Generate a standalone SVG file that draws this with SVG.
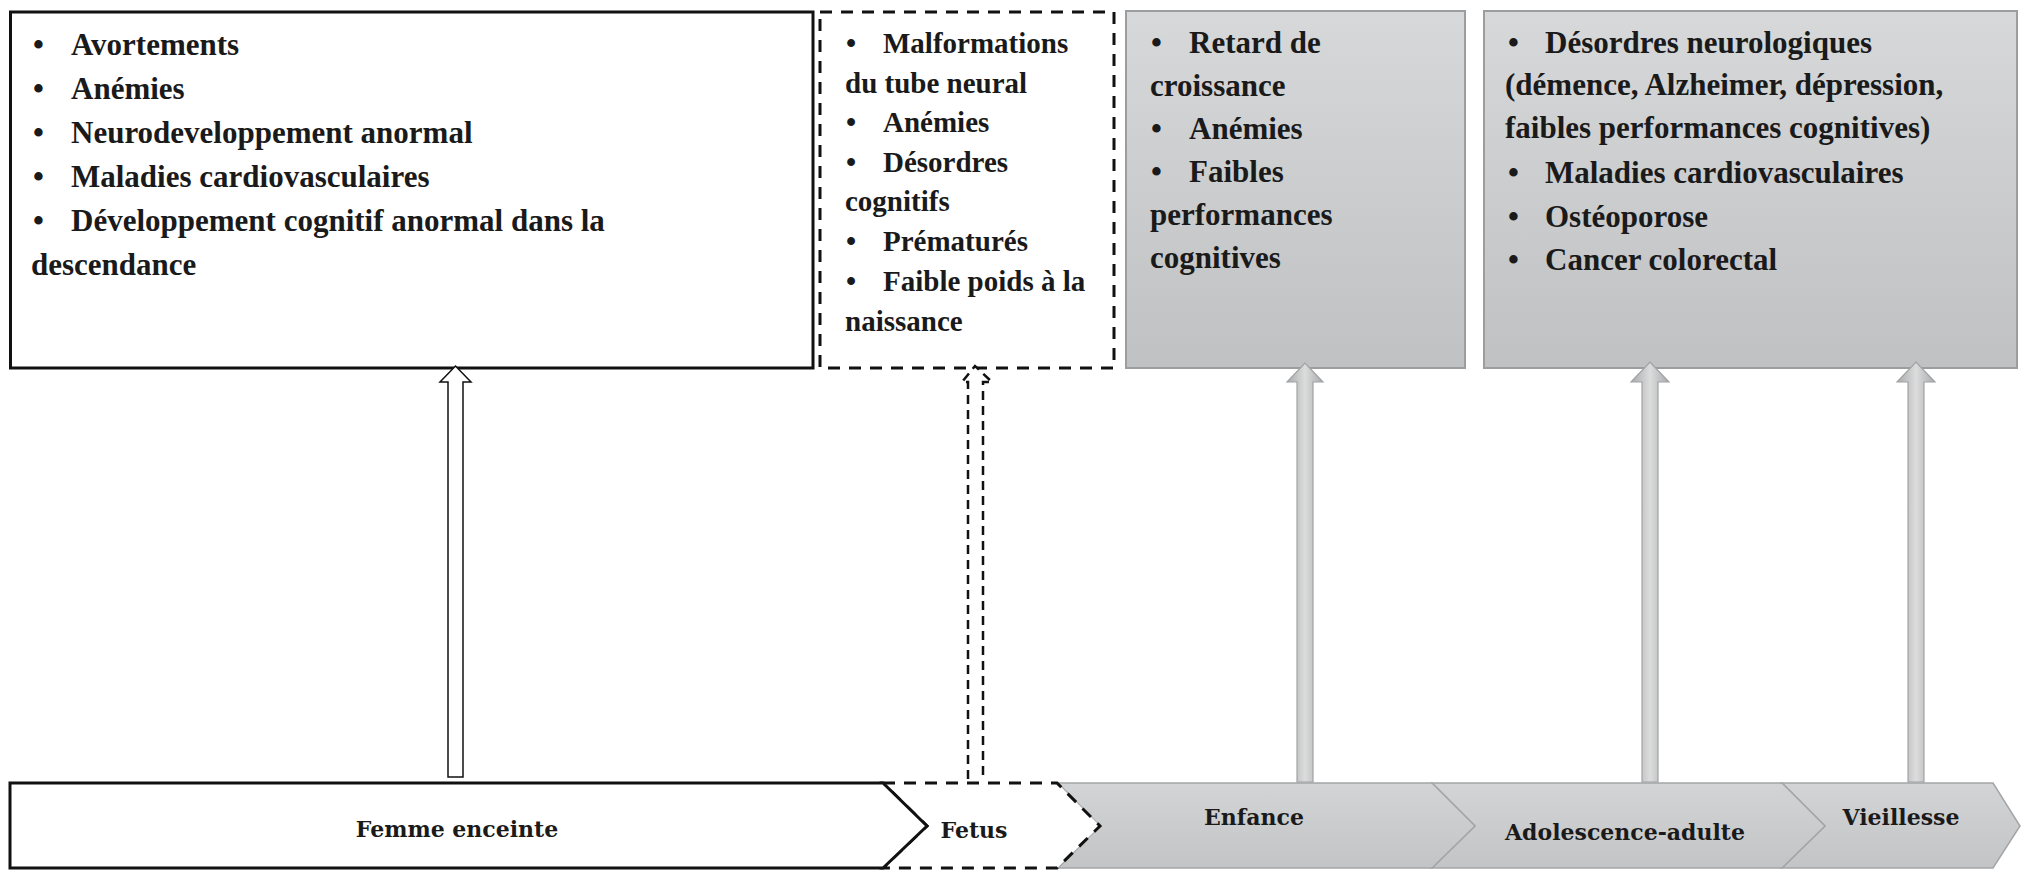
<svg xmlns="http://www.w3.org/2000/svg" width="2022" height="870" viewBox="0 0 2022 870">
  <defs>
    <linearGradient id="gBox" x1="0" y1="0" x2="0" y2="1">
      <stop offset="0" stop-color="#d6d8da"/>
      <stop offset="1" stop-color="#bfc1c3"/>
    </linearGradient>
    <linearGradient id="gBar" x1="0" y1="0" x2="0" y2="1">
      <stop offset="0" stop-color="#d2d4d6"/>
      <stop offset="1" stop-color="#c2c4c6"/>
    </linearGradient>
    <linearGradient id="gArrow" x1="0" y1="0" x2="1" y2="0">
      <stop offset="0" stop-color="#a8aaac"/>
      <stop offset="0.5" stop-color="#dcdcdc"/>
      <stop offset="1" stop-color="#a8aaac"/>
    </linearGradient>
    <style>
      .t { font-family: "Liberation Serif", "Times New Roman", serif; font-weight: bold; fill: #1a1a1a; }
      .t31 { font-size: 31px; }
      .t29 { font-size: 29px; }
      .lbl { font-family: "DejaVu Serif", "Liberation Serif", serif; font-weight: bold; font-size: 22px; fill: #1a1a1a; text-anchor: middle; }
      .solid { fill: #ffffff; stroke: #111111; stroke-width: 3; }
      .dashed { fill: #ffffff; stroke: #111111; stroke-width: 3; stroke-dasharray: 12 9; }
      .grayBox { fill: url(#gBox); stroke: #9b9d9f; stroke-width: 2; }
      .grayBar { fill: url(#gBar); stroke: #a3a5a7; stroke-width: 1.5; }
      .arrowWhite { fill: #ffffff; stroke: #111111; stroke-width: 1.5; }
      .arrowDash { fill: #ffffff; stroke: #111111; stroke-width: 2.5; stroke-dasharray: 9 6; }
      .arrowGray { fill: url(#gArrow); stroke: #a0a2a4; stroke-width: 1.2; }
    </style>
  </defs>
  <rect width="2022" height="870" fill="#ffffff"/>

  <!-- Effect boxes -->
  <g id="box-femme-effects">
    <rect class="solid" x="10.5" y="12" width="802.5" height="356"/>
    <text class="t t31" x="33" y="55">•</text><text class="t t31" x="71" y="55">Avortements</text>
    <text class="t t31" x="33" y="99">•</text><text class="t t31" x="71" y="99">Anémies</text>
    <text class="t t31" x="33" y="143">•</text><text class="t t31" x="71" y="143">Neurodeveloppement anormal</text>
    <text class="t t31" x="33" y="187">•</text><text class="t t31" x="71" y="187">Maladies cardiovasculaires</text>
    <text class="t t31" x="33" y="231">•</text><text class="t t31" x="71" y="231">Développement cognitif anormal dans la</text>
    <text class="t t31" x="31" y="275">descendance</text>
  </g>

  <g id="box-fetus-effects">
    <rect class="dashed" x="820" y="12" width="294" height="356"/>
    <text class="t t29" x="846" y="53">•</text><text class="t t29" x="883" y="53">Malformations</text>
    <text class="t t29" x="845" y="93">du tube neural</text>
    <text class="t t29" x="846" y="132">•</text><text class="t t29" x="883" y="132">Anémies</text>
    <text class="t t29" x="846" y="172">•</text><text class="t t29" x="883" y="172">Désordres</text>
    <text class="t t29" x="845" y="211">cognitifs</text>
    <text class="t t29" x="846" y="251">•</text><text class="t t29" x="883" y="251">Prématurés</text>
    <text class="t t29" x="846" y="291">•</text><text class="t t29" x="883" y="291">Faible poids à la</text>
    <text class="t t29" x="845" y="331">naissance</text>
  </g>

  <g id="box-enfance-effects">
    <rect class="grayBox" x="1126" y="11" width="339" height="357"/>
    <text class="t t31" x="1151" y="53">•</text><text class="t t31" x="1189" y="53">Retard de</text>
    <text class="t t31" x="1150" y="96">croissance</text>
    <text class="t t31" x="1151" y="139">•</text><text class="t t31" x="1189" y="139">Anémies</text>
    <text class="t t31" x="1151" y="182">•</text><text class="t t31" x="1189" y="182">Faibles</text>
    <text class="t t31" x="1150" y="225">performances</text>
    <text class="t t31" x="1150" y="268">cognitives</text>
  </g>

  <g id="box-adulte-effects">
    <rect class="grayBox" x="1484" y="11" width="533" height="357"/>
    <text class="t t31" x="1508" y="53">•</text><text class="t t31" x="1545" y="53">Désordres neurologiques</text>
    <text class="t t31" x="1505" y="95">(démence, Alzheimer, dépression,</text>
    <text class="t t31" x="1505" y="138">faibles performances cognitives)</text>
    <text class="t t31" x="1508" y="183">•</text><text class="t t31" x="1545" y="183">Maladies cardiovasculaires</text>
    <text class="t t31" x="1508" y="227">•</text><text class="t t31" x="1545" y="227">Ostéoporose</text>
    <text class="t t31" x="1508" y="270">•</text><text class="t t31" x="1545" y="270">Cancer colorectal</text>
  </g>

  <!-- Life stages (chevrons) -->
  <g id="stage-vieillesse">
    <polygon class="grayBar" points="1782,783 1993,783 2020,826 1993,868 1782,868 1825,826"/>
    <text class="lbl" x="1901" y="825">Vieillesse</text>
  </g>
  <g id="stage-adolescence">
    <polygon class="grayBar" points="1432,783 1782,783 1825,826 1782,868 1432,868 1475,826"/>
    <text class="lbl" x="1625" y="840">Adolescence-adulte</text>
  </g>
  <g id="stage-enfance">
    <polygon class="grayBar" points="1058,783 1432,783 1475,826 1432,868 1058,868 1100,826"/>
    <text class="lbl" x="1254" y="825">Enfance</text>
  </g>
  <g id="stage-fetus">
    <polygon class="dashed" points="883,783 1057,783 1100,826 1057,868 883,868 927,826"/>
    <text class="lbl" x="974" y="838">Fetus</text>
  </g>
  <g id="stage-femme">
    <polygon class="solid" points="10,783 883,783 927,826 883,868 10,868"/>
    <text class="lbl" x="457" y="837">Femme enceinte</text>
  </g>

  <!-- Connectors -->
  <g id="connectors">
    <path class="arrowWhite" d="M448,777 L448,382 L440,382 L455.5,366 L471,382 L463,382 L463,777 Z"/>
    <path class="arrowDash" d="M968,779 L968,382 L962,382 L975,366 L992,382 L983,382 L983,779"/>
    <path class="arrowGray" d="M1297,782 L1297,382 L1287,382 L1305,363 L1323,382 L1313,382 L1313,782 Z"/>
    <path class="arrowGray" d="M1642,782 L1642,382 L1631,382 L1650,362 L1669,382 L1658,382 L1658,782 Z"/>
    <path class="arrowGray" d="M1908,782 L1908,382 L1897,382 L1916,362 L1935,382 L1924,382 L1924,782 Z"/>
  </g>
</svg>
